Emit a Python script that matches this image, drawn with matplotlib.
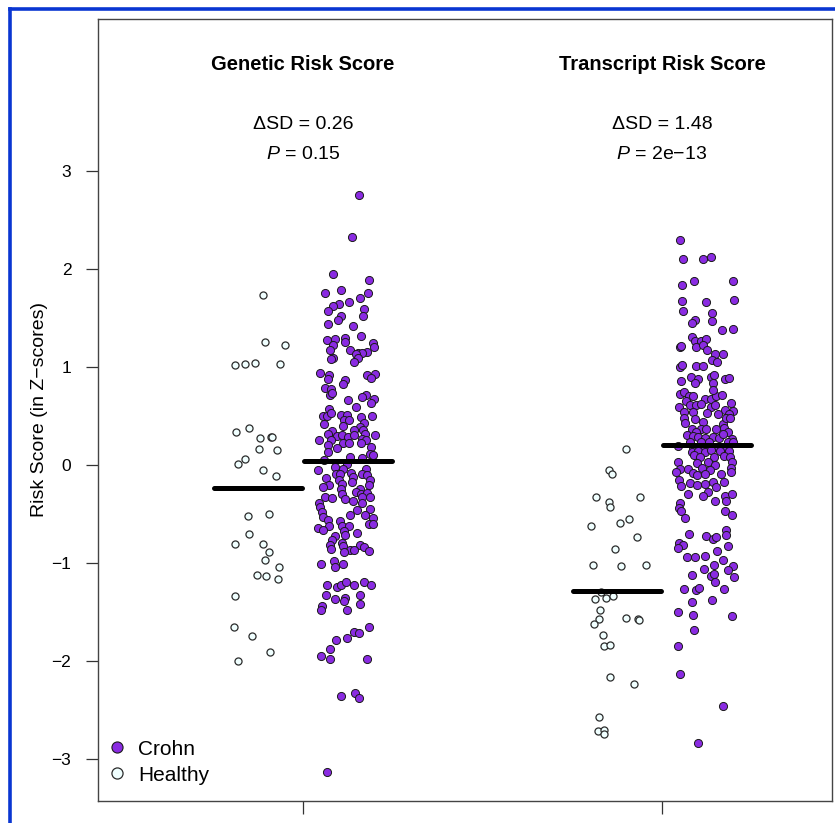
import numpy as np
import matplotlib
matplotlib.use("Agg")
import matplotlib.pyplot as plt
from matplotlib.lines import Line2D

plt.rcParams['font.family'] = ['Liberation Sans', 'DejaVu Sans']
plt.rcParams['mathtext.fontset'] = 'custom'
plt.rcParams['mathtext.rm'] = 'Liberation Sans'
plt.rcParams['mathtext.it'] = 'Liberation Sans:italic'

# panels and their annotations
panels = ['Genetic Risk Score', 'Transcript Risk Score']
delta_sd = ['0.26', '1.48']
p_values = ['0.15', '2e\u221213']
group_means = {'healthy': [-0.23, -1.28], 'crohn': [0.04, 0.21]}

# (horizontal jitter in 1/359 of the group spacing, risk z-score)
gen_healthy = [
    (5, 1.74), (7, 1.26), (27, 1.23), (-23, 1.02), (-13, 1.03), (-3, 1.04), (22, 1.03),
    (-22, 0.34), (-9, 0.38), (2, 0.28), (13, 0.29), (14, 0.285), (1, 0.16), (19, 0.15),
    (-20, 0.01), (-13, 0.06), (5, -0.05), (18, -0.11), (-10, -0.52), (11, -0.50),
    (-9, -0.70), (-23, -0.80), (5, -0.80), (11, -0.89), (7, -0.97), (21, -1.04),
    (-1, -1.12), (8, -1.13), (20, -1.16), (-23, -1.33), (-24, -1.65), (-6, -1.74),
    (12, -1.91), (-20, -2.00),
]

gen_crohn = [
    (11, 2.76), (4, 2.33), (-15, 1.95), (21, 1.89), (-23, 1.76), (-7, 1.79), (20, 1.76),
    (12, 1.70), (1, 1.66), (-9, 1.64), (-15, 1.62), (-20, 1.57), (16, 1.59), (-7, 1.52),
    (-10, 1.48), (15, 1.52), (-20, 1.44), (5, 1.42), (13, 1.32), (-21, 1.28), (-13, 1.29),
    (-3, 1.30), (-3, 1.26), (25, 1.25), (-15, 1.23), (26, 1.20), (-18, 1.17), (2, 1.17),
    (19, 1.15), (10, 1.14), (14, 1.14), (8, 1.13), (-15, 1.09), (-17, 1.08), (10, 1.09),
    (6, 1.05), (-28, 0.94), (-19, 0.92), (19, 0.92), (27, 0.93), (-20, 0.88), (-3, 0.87),
    (23, 0.89), (-23, 0.79), (-17, 0.78), (-5, 0.83), (-18, 0.72), (-16, 0.74), (18, 0.72),
    (14, 0.69), (26, 0.67), (0, 0.66), (23, 0.63), (8, 0.59), (-19, 0.57), (-25, 0.50),
    (-21, 0.50), (-17, 0.53), (-7, 0.51), (-1, 0.51), (13, 0.49), (24, 0.50), (-4, 0.46),
    (1, 0.46), (-24, 0.42), (16, 0.43), (-5, 0.40), (12, 0.39), (6, 0.36), (15, 0.36),
    (-16, 0.35), (-20, 0.32), (-11, 0.30), (-6, 0.31), (0, 0.29), (6, 0.31), (17, 0.32),
    (27, 0.31), (-29, 0.26), (-17, 0.26), (14, 0.27), (18, 0.26), (-5, 0.23), (1, 0.23),
    (-20, 0.21), (13, 0.23), (23, 0.19), (-11, 0.18), (-20, 0.13), (22, 0.11), (25, 0.10),
    (14, 0.07), (2, 0.08), (-24, 0.05), (-30, -0.05), (-13, -0.02), (-1, 0.01), (-5, -0.04),
    (18, -0.04), (-12, -0.09), (-8, -0.09), (3, -0.08), (14, -0.09), (19, -0.10),
    (-22, -0.13), (5, -0.12), (22, -0.15), (-9, -0.15), (4, -0.17), (-19, -0.20),
    (-25, -0.22), (-6, -0.19), (21, -0.20), (-7, -0.24), (12, -0.24), (8, -0.27),
    (13, -0.29), (19, -0.28), (-6, -0.29), (-23, -0.32), (-16, -0.33), (14, -0.32),
    (22, -0.32), (-3, -0.35), (-29, -0.39), (5, -0.37), (-28, -0.43), (14, -0.39),
    (9, -0.46), (-26, -0.48), (22, -0.45), (17, -0.51), (2, -0.51), (-25, -0.53),
    (-20, -0.56), (25, -0.54), (-8, -0.57), (21, -0.60), (25, -0.60), (-19, -0.62),
    (-6, -0.62), (1, -0.62), (-30, -0.64), (-25, -0.66), (-4, -0.67), (9, -0.69),
    (-13, -0.72), (-3, -0.71), (-16, -0.76), (-6, -0.79), (-18, -0.81), (12, -0.81),
    (-5, -0.82), (16, -0.83), (-17, -0.86), (2, -0.87), (6, -0.87), (21, -0.88),
    (-4, -0.89), (-27, -1.01), (-14, -0.98), (-13, -1.04), (-5, -1.01), (-21, -1.22),
    (-11, -1.24), (-7, -1.22), (-2, -1.19), (6, -1.22), (16, -1.19), (23, -1.22),
    (-22, -1.32), (-13, -1.36), (-3, -1.35), (-4, -1.39), (12, -1.32), (-26, -1.44),
    (-27, -1.48), (-1, -1.48), (12, -1.42), (21, -1.65), (6, -1.70), (11, -1.71),
    (-12, -1.78), (-1, -1.76), (-18, -1.88), (-27, -1.95), (-18, -1.98), (19, -1.98),
    (-7, -2.35), (7, -2.32), (11, -2.37), (-21, -3.13),
]

tr_healthy = [
    (9, 0.16), (-8, -0.05), (-5, -0.09), (-21, -0.32), (23, -0.32), (-8, -0.38),
    (-7, -0.43), (-26, -0.62), (3, -0.59), (12, -0.55), (20, -0.73), (-2, -0.86),
    (-24, -1.02), (4, -1.03), (29, -1.02), (-16, -1.29), (-11, -1.35), (-4, -1.33),
    (-22, -1.37), (-17, -1.48), (-18, -1.57), (-23, -1.62), (9, -1.56), (21, -1.57),
    (22, -1.58), (-14, -1.73), (-13, -1.84), (-7, -1.83), (-7, -2.16), (17, -2.23),
    (-18, -2.57), (-19, -2.71), (-13, -2.70), (-13, -2.74),
]

tr_crohn = [
    (-27, 2.30), (-24, 2.10), (-4, 2.10), (4, 2.12), (-25, 1.84), (-13, 1.88), (26, 1.88),
    (-25, 1.67), (-1, 1.66), (27, 1.68), (-24, 1.57), (5, 1.55), (-12, 1.48), (-15, 1.45),
    (5, 1.47), (15, 1.38), (26, 1.39), (-15, 1.31), (-12, 1.27), (-6, 1.27), (-1, 1.29),
    (-27, 1.21), (-26, 1.22), (-11, 1.20), (-4, 1.23), (0, 1.17), (8, 1.13), (16, 1.13),
    (5, 1.07), (10, 1.05), (-27, 1.00), (-25, 1.02), (-11, 1.01), (-4, 1.01), (-16, 0.90),
    (-9, 0.88), (4, 0.90), (7, 0.92), (18, 0.88), (22, 0.89), (-26, 0.86), (-12, 0.84),
    (6, 0.84), (-27, 0.73), (-23, 0.75), (-18, 0.71), (-14, 0.71), (-2, 0.67), (4, 0.67),
    (9, 0.71), (15, 0.72), (6, 0.77), (-21, 0.65), (-28, 0.59), (-17, 0.61), (-11, 0.61),
    (-6, 0.62), (4, 0.59), (8, 0.61), (18, 0.56), (24, 0.63), (26, 0.55), (-23, 0.54),
    (-14, 0.54), (0, 0.53), (11, 0.52), (22, 0.52), (-23, 0.48), (-12, 0.47), (-22, 0.43),
    (-4, 0.44), (16, 0.42), (19, 0.48), (23, 0.48), (-15, 0.37), (-6, 0.37), (-1, 0.37),
    (9, 0.37), (17, 0.38), (-11, 0.34), (21, 0.34), (-20, 0.31), (-14, 0.30), (-9, 0.29),
    (-2, 0.28), (6, 0.29), (12, 0.28), (16, 0.32), (25, 0.27), (-17, 0.24), (-6, 0.24),
    (2, 0.24), (21, 0.24), (26, 0.24), (-29, 0.20), (-14, 0.19), (-3, 0.19), (10, 0.19),
    (17, 0.19), (-15, 0.13), (-9, 0.14), (-2, 0.13), (4, 0.15), (13, 0.14), (22, 0.14),
    (-13, 0.10), (-7, 0.08), (7, 0.08), (17, 0.09), (23, 0.08), (-29, 0.03), (-10, 0.02),
    (1, 0.03), (8, 0.00), (25, 0.03), (-27, -0.04), (-19, -0.04), (-5, -0.03), (3, -0.05),
    (24, -0.03), (-31, -0.07), (-14, -0.08), (-10, -0.10), (-2, -0.09), (14, -0.09),
    (24, -0.07), (-28, -0.15), (-17, -0.18), (-2, -0.19), (6, -0.17), (17, -0.17),
    (-26, -0.21), (-10, -0.20), (9, -0.22), (-19, -0.29), (1, -0.27), (-4, -0.31),
    (18, -0.31), (25, -0.29), (8, -0.37), (19, -0.37), (-27, -0.39), (-28, -0.44),
    (-26, -0.47), (-22, -0.54), (18, -0.47), (25, -0.51), (-18, -0.70), (-1, -0.72),
    (6, -0.75), (9, -0.73), (19, -0.66), (19, -0.71), (-28, -0.79), (-24, -0.81),
    (-29, -0.84), (21, -0.82), (10, -0.88), (-20, -0.94), (-12, -0.94), (-2, -0.93),
    (16, -0.97), (7, -1.02), (26, -1.03), (-3, -1.06), (21, -1.07), (-15, -1.12),
    (4, -1.13), (7, -1.11), (27, -1.14), (8, -1.19), (-23, -1.26), (-11, -1.27),
    (-8, -1.25), (17, -1.26), (-15, -1.40), (5, -1.38), (-29, -1.50), (-14, -1.53),
    (25, -1.54), (-13, -1.68), (-29, -1.84), (-27, -2.13), (16, -2.46), (-9, -2.83),
]

healthy_groups = [gen_healthy, tr_healthy]
crohn_groups = [gen_crohn, tr_crohn]

crohn_color = '#8a2be2'
healthy_color = '#f0ffff'
offset = 0.125
jitter_scale = 1 / 359.0

fig = plt.figure(figsize=(8.35, 8.23), dpi=100)
ax = fig.add_axes([0.117, 0.0271, 0.8794, 0.9504])

for i in range(2):
    pos = i + 1
    h = np.array(healthy_groups[i])
    c = np.array(crohn_groups[i])
    ax.scatter(pos - offset + h[:, 0] * jitter_scale, h[:, 1], s=26, c=healthy_color,
               edgecolors='#2b2b2b', linewidths=0.9, zorder=3)
    ax.scatter(pos + offset + c[:, 0] * jitter_scale, c[:, 1], s=34, c=crohn_color,
               edgecolors='#1a1a1a', linewidths=0.7, zorder=3)
    for sub, key in [(-offset, 'healthy'), (offset, 'crohn')]:
        m = group_means[key][i]
        ax.plot([pos + sub - 0.1225, pos + sub + 0.1225], [m, m], color='black', lw=3.6,
                solid_capstyle='round', zorder=4)

    tr = ax.get_xaxis_transform()
    ax.text(pos, 0.9342, panels[i], transform=tr, ha='center', va='baseline',
            fontsize=14.5, fontweight='bold')
    ax.text(pos, 0.8587, '\u0394SD = ' + delta_sd[i], transform=tr, ha='center',
            va='baseline', fontsize=14)
    ax.text(pos, 0.8204, r'$\mathit{P}$ = ' + p_values[i], transform=tr, ha='center',
            va='baseline', fontsize=14)

ax.set_xlim(0.428, 2.4735)
ax.set_ylim(-3.422, 4.555)
ax.set_xticks([1, 2])
ax.set_xticklabels([])
ax.set_yticks([-3, -2, -1, 0, 1, 2, 3])
ax.tick_params(axis='both', direction='out', length=9, width=0.9, color='#333333',
               labelsize=12.5, pad=10)
for sp in ax.spines.values():
    sp.set_color('#444444')
    sp.set_linewidth(1.0)

ax.text(-0.0795, 0.5, 'Risk Score (in Z\u2212scores)', transform=ax.transAxes,
        rotation=90, ha='center', va='center', fontsize=14)

handles = [
    Line2D([], [], ls='none', marker='o', markersize=8, markerfacecolor=crohn_color,
           markeredgecolor='#1a1a1a', markeredgewidth=0.8),
    Line2D([], [], ls='none', marker='o', markersize=8, markerfacecolor=healthy_color,
           markeredgecolor='#2b2b2b', markeredgewidth=0.9),
]
ax.legend(handles, ['Crohn', 'Healthy'], loc='lower left', bbox_to_anchor=(0.0121, 0.0205),
          frameon=False, fontsize=15, handlelength=1.0, handletextpad=0.51,
          labelspacing=0.33, borderpad=0, borderaxespad=0)

# blue frame on the top and left edges
blue = '#0a36d2'
fig.add_artist(Line2D([10 / 835, 10 / 835], [0, 1 - 9.2 / 823], transform=fig.transFigure,
                      color=blue, lw=2.6, solid_capstyle='projecting'))
fig.add_artist(Line2D([10 / 835, 1], [1 - 9.2 / 823, 1 - 9.2 / 823], transform=fig.transFigure,
                      color=blue, lw=2.6, solid_capstyle='projecting'))

fig.savefig('out.png', dpi=100)
